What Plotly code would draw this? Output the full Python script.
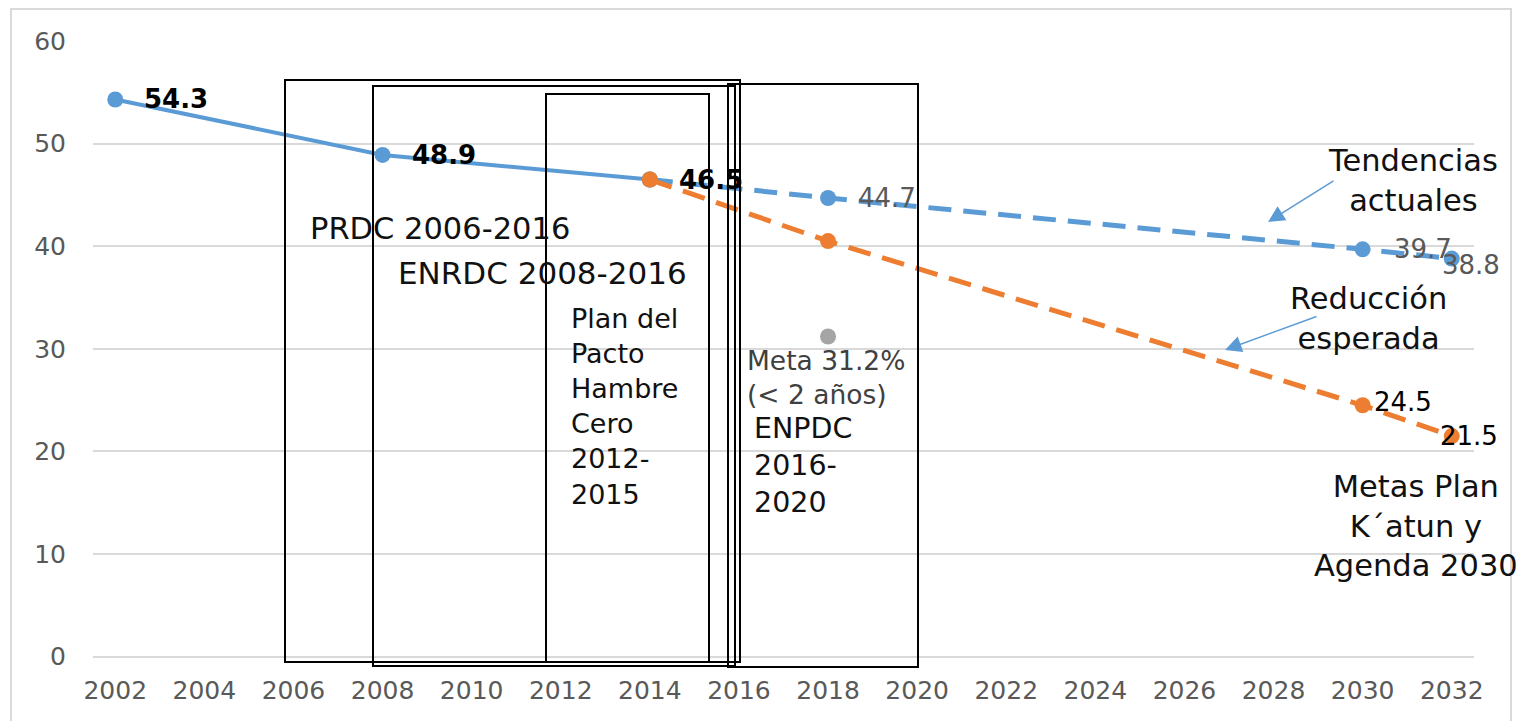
import plotly.graph_objects as go

# ---------------- data ----------------
hist_years = [2002, 2008, 2014]
hist_values = [54.3, 48.9, 46.5]

trend_years = [2014, 2018, 2030, 2032]
trend_values = [46.5, 44.7, 39.7, 38.8]

expected_years = [2014, 2018, 2030, 2032]
expected_values = [46.5, 40.5, 24.5, 21.5]

goal_years = [2018]
goal_values = [31.2]

x_ticks = list(range(2002, 2033, 2))
y_ticks = [0, 10, 20, 30, 40, 50, 60]

BLUE = "#5B9BD5"
ORANGE = "#ED7D31"
GRAY = "#A5A5A5"
FONT = "DejaVu Sans"

W, H = 1524, 721
ML, MR, MT, MB = 93, 50, 41, 52
X0, X1 = 2001.5, 2032.5
Y0, Y1 = -1.2, 60

def px2x(px):
    return X0 + (px - ML) * (X1 - X0) / (W - ML - MR)

def px2y(py):
    ph = H - MT - MB
    return Y1 - (py - MT) * (Y1 - Y0) / ph

fig = go.Figure()

fig.add_trace(go.Scatter(x=hist_years, y=hist_values, mode="lines+markers",
                         line=dict(color=BLUE, width=4),
                         marker=dict(color=BLUE, size=16), hoverinfo="skip"))
fig.add_trace(go.Scatter(x=trend_years, y=trend_values, mode="lines+markers",
                         line=dict(color=BLUE, width=5, dash="23px,12px"),
                         marker=dict(color=BLUE, size=16), hoverinfo="skip"))
fig.add_trace(go.Scatter(x=expected_years, y=expected_values, mode="lines+markers",
                         line=dict(color=ORANGE, width=5, dash="23px,12px"),
                         marker=dict(color=ORANGE, size=16), hoverinfo="skip"))
fig.add_trace(go.Scatter(x=goal_years, y=goal_values, mode="markers",
                         marker=dict(color=GRAY, size=16), hoverinfo="skip"))

annotations = []

# data labels: (x, y, color, bold, xshift, yshift)
label_specs = [
    (hist_years[0], hist_values[0], "#000000", True, 27, 0),
    (hist_years[1], hist_values[1], "#000000", True, 27, 0),
    (hist_years[2], hist_values[2], "#000000", True, 27, 0),
    (trend_years[1], trend_values[1], "#595959", False, 28, 0),
    (trend_years[2], trend_values[2], "#595959", False, 29, 0),
    (trend_years[3], trend_values[3], "#595959", False, -12, -6),
    (expected_years[2], expected_values[2], "#000000", False, 9, 3),
    (expected_years[3], expected_values[3], "#000000", False, -14, 0),
]
for x, y, col, bold, xs, ys in label_specs:
    txt = f"{y:.1f}"
    if bold:
        txt = f"<b>{txt}</b>"
    annotations.append(dict(x=x, y=y, xref="x", yref="y", text=txt, showarrow=False,
                            xanchor="left", yanchor="middle", xshift=xs, yshift=ys,
                            font=dict(family=FONT, size=26, color=col)))

def text_ann(text, px, py, size, anchor="left", color="#111111", align="left"):
    annotations.append(dict(x=px2x(px), y=px2y(py), xref="x", yref="y", text=text,
                            showarrow=False, xanchor=anchor, yanchor="middle",
                            align=align, font=dict(family=FONT, size=size, color=color)))

text_ann("PRDC 2006-2016", 308, 228, 30.5)
text_ann("ENRDC 2008-2016", 396, 273, 31)
text_ann("Plan del<br>Pacto<br>Hambre<br>Cero<br>2012-<br>2015", 569, 406, 27)
text_ann("Meta 31.2%<br>(&lt; 2 años)", 745, 377, 26.5, color="#404040")
text_ann("ENPDC<br>2016-<br>2020", 752, 465, 28.5)
text_ann("Tendencias<br>actuales", 1413, 180, 30.5, anchor="center", align="center")
text_ann("Reducción<br>esperada", 1368, 318, 30.5, anchor="center", align="center")
text_ann("Metas Plan<br>K´atun y<br>Agenda 2030", 1416, 526, 30.5, anchor="center", align="center")

# arrows
for hx, hy, tx, ty in [(1268, 222, 1335, 180), (1225, 350, 1318, 316)]:
    annotations.append(dict(x=px2x(hx), y=px2y(hy), xref="x", yref="y", text="",
                            showarrow=True, ax=tx - hx, ay=ty - hy, axref="pixel", ayref="pixel",
                            arrowhead=2, arrowsize=2.2, arrowwidth=1.5, arrowcolor=BLUE,
                            standoff=0, startstandoff=0))

shapes = []
for x0p, x1p, y0p, y1p in [(285, 740, 80, 662), (373, 735, 86, 666),
                           (546, 709, 94, 662), (728, 918, 84, 667)]:
    shapes.append(dict(type="rect", xref="x", yref="y",
                       x0=px2x(x0p), x1=px2x(x1p), y0=px2y(y1p), y1=px2y(y0p),
                       line=dict(color="#000000", width=2), fillcolor="rgba(0,0,0,0)",
                       layer="above"))

# outer chart border
pw, ph = W - ML - MR, H - MT - MB
shapes.append(dict(type="rect", xref="paper", yref="paper",
                   x0=(11 - ML) / pw, x1=(1511 - ML) / pw,
                   y0=-(H + 5 - (H - MB)) / ph, y1=((H - MB) - 9) / ph,
                   line=dict(color="#d9d9d9", width=2), fillcolor="rgba(0,0,0,0)",
                   layer="below"))

fig.update_layout(
    width=W, height=H,
    margin=dict(l=ML, r=MR, t=MT, b=MB),
    paper_bgcolor="white", plot_bgcolor="white",
    showlegend=False,
    font=dict(family=FONT),
    annotations=annotations,
    shapes=shapes,
    xaxis=dict(range=[X0, X1], tickmode="array", tickvals=x_ticks,
               ticktext=[str(v) for v in x_ticks], showgrid=False, zeroline=False,
               showline=False, ticks="", ticklabelstandoff=4,
               tickfont=dict(family=FONT, size=25, color="#595959")),
    yaxis=dict(range=[Y0, Y1], tickmode="array", tickvals=y_ticks,
               showgrid=True, gridcolor="#d9d9d9", gridwidth=1.5, zeroline=False,
               showline=False, ticks="", ticklabelstandoff=26,
               tickfont=dict(family=FONT, size=25, color="#595959")),
)

fig.write_html("out.html", config={"displayModeBar": False},
               post_script="document.body.style.margin='0';document.body.style.overflow='hidden';")
